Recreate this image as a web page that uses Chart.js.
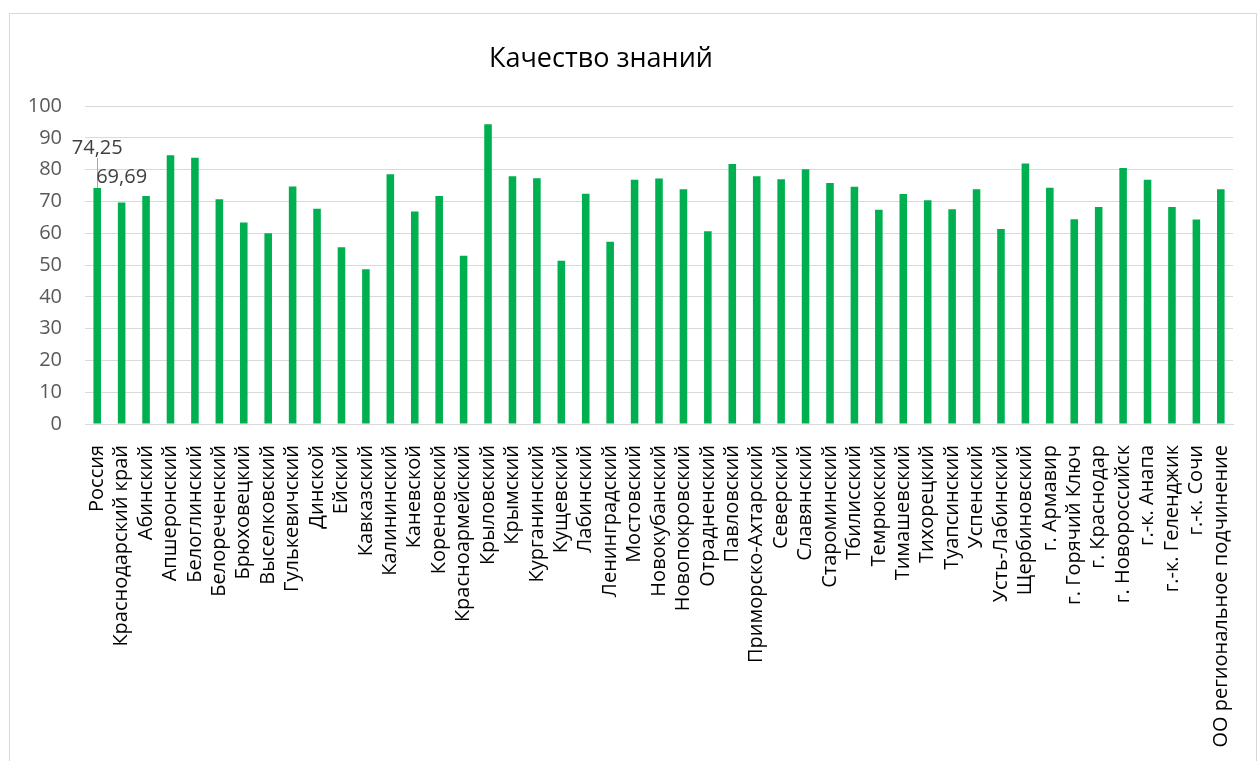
<!DOCTYPE html>
<html lang="ru">
<head>
    <meta charset="UTF-8">
    <title>Качество знаний</title>
    <script src="https://cdn.jsdelivr.net/npm/chart.js"></script>
    <style>
        body { margin: 0; background: #fff; }
        #frame { position: absolute; left: 9px; top: 13px; width: 1246px; height: 760px; border: 1px solid #d9d9d9; }
        #wrap { position: absolute; left: 0; top: 0; width: 1258px; height: 761px; }
    </style>
</head>
<body>
    <div id="frame"></div>
    <div id="wrap"><canvas id="qualityChart"></canvas></div>

    <script>
        const areas = [
            "Россия", "Краснодарский край", "Абинский", "Апшеронский", "Белоглинский",
            "Белореченский", "Брюховецкий", "Выселковский", "Гулькевичский", "Динской",
            "Ейский", "Кавказский", "Калининский", "Каневской", "Кореновский",
            "Красноармейский", "Крыловский", "Крымский", "Курганинский", "Кущевский",
            "Лабинский", "Ленинградский", "Мостовский", "Новокубанский", "Новопокровский",
            "Отрадненский", "Павловский", "Приморско-Ахтарский", "Северский", "Славянский",
            "Староминский", "Тбилисский", "Темрюкский", "Тимашевский", "Тихорецкий",
            "Туапсинский", "Успенский", "Усть-Лабинский", "Щербиновский", "г. Армавир",
            "г. Горячий Ключ", "г. Краснодар", "г. Новороссийск", "г.-к. Анапа", "г.-к. Геленджик",
            "г.-к. Сочи", "ОО региональное подчинение"
        ];
        const quality = [
            74.25, 69.69, 71.7, 84.5, 83.7,
            70.7, 63.4, 60.0, 74.7, 67.7,
            55.6, 48.7, 78.5, 66.8, 71.7,
            52.9, 94.3, 77.9, 77.3, 51.3,
            72.4, 57.3, 76.8, 77.2, 73.8,
            60.6, 81.8, 77.9, 77.0, 80.1,
            75.8, 74.6, 67.4, 72.3, 70.4,
            67.5, 73.8, 61.3, 81.9, 74.3,
            64.4, 68.2, 80.5, 76.8, 68.2,
            64.3, 73.8
        ];
        const yTicks = [0, 10, 20, 30, 40, 50, 60, 70, 80, 90, 100];
        const chartTitle = "Качество знаний";
        // only the first two bars carry a value label in the original
        const labelled = [0, 1];
        const labelTexts = ["74,25", "69,69"];

        const FONT = "'Open Sans', sans-serif";

        // title is centred on the frame, not on the plot, so draw it by hand
        const frameTitle = {
            id: "frameTitle",
            afterDraw(chart) {
                const ctx = chart.ctx;
                ctx.save();
                ctx.font = "27px " + FONT;
                ctx.fillStyle = "#000";
                ctx.textAlign = "center";
                ctx.textBaseline = "middle";
                ctx.fillText(chartTitle, 601, 59);
                ctx.restore();
            }
        };

        const valueLabels = {
            id: "valueLabels",
            afterDatasetsDraw(chart) {
                const ctx = chart.ctx;
                const bars = chart.getDatasetMeta(0).data;
                const lifts = [40, 25];
                ctx.save();
                // leader line of the dragged first label
                const b0 = bars[labelled[0]];
                ctx.strokeStyle = "#a6a6a6";
                ctx.lineWidth = 1;
                ctx.beginPath();
                ctx.moveTo(Math.round(b0.x) + 0.5, b0.y);
                ctx.lineTo(Math.round(b0.x) + 0.5, b0.y - 30);
                ctx.stroke();

                ctx.font = "20px " + FONT;
                ctx.fillStyle = "#404040";
                ctx.textAlign = "center";
                ctx.textBaseline = "middle";
                labelled.forEach((idx, k) => {
                    const b = bars[idx];
                    ctx.fillText(labelTexts[k], b.x, b.y - lifts[k]);
                });
                ctx.restore();
            }
        };

        new Chart(document.getElementById("qualityChart"), {
            type: "bar",
            data: {
                labels: areas,
                datasets: [{
                    data: quality,
                    backgroundColor: "#00b050",
                    categoryPercentage: 1,
                    barPercentage: 0.31
                }]
            },
            options: {
                responsive: true,
                maintainAspectRatio: false,
                animation: false,
                layout: { padding: { left: 0, right: 18, top: 106, bottom: 0 } },
                plugins: {
                    legend: { display: false },
                    tooltip: { enabled: false },
                    title: { display: false }
                },
                scales: {
                    x: {
                        grid: { display: false },
                        border: { color: "#d9d9d9" },
                        ticks: {
                            autoSkip: false,
                            minRotation: 90,
                            maxRotation: 90,
                            padding: 13,
                            color: "#000",
                            font: { family: FONT, size: 20 }
                        },
                        afterFit(s) { s.height = 337; }
                    },
                    y: {
                        min: 0,
                        max: 100,
                        afterBuildTicks(s) { s.ticks = yTicks.map(v => ({ value: v })); },
                        grid: { color: "#d9d9d9", drawTicks: false },
                        border: { display: false },
                        ticks: {
                            padding: 23,
                            color: "#595959",
                            font: { family: FONT, size: 20 }
                        },
                        afterFit(s) { s.width = 85; }
                    }
                }
            },
            plugins: [valueLabels, frameTitle]
        });
    </script>
</body>
</html>
